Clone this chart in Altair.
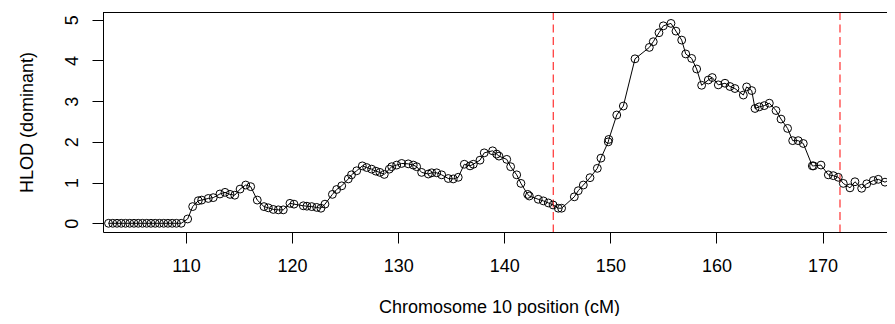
import altair as alt
import pandas as pd

# Chromosome position (cM) and HLOD values
pos = [102.7, 103.1, 103.5, 103.9, 104.3, 104.7, 105.1, 105.5, 105.9, 106.3,
       106.7, 107.1, 107.5, 107.9, 108.3, 108.7, 109.1, 109.55,
       110.16, 110.63, 111.16, 111.48, 112.1, 112.57, 113.2, 113.68, 114.15, 114.6,
       115.1, 115.63, 116.1, 116.72, 117.35, 117.76, 118.23, 118.7, 119.17, 119.8,
       120.18, 121.06, 121.4, 121.85, 122.32, 122.72, 123.1, 123.8, 124.2, 124.68,
       125.3, 125.6, 126.09, 126.62, 127.03, 127.5, 127.9, 128.28, 128.69, 129.16,
       129.39, 129.86, 130.33, 130.95, 131.42, 131.74, 132.21, 132.84, 133.16, 133.63,
       134.1, 134.72, 135.19, 135.66, 136.23, 136.77, 137.08, 137.71, 138.11, 138.9,
       139.28, 139.5, 140.23, 140.6, 141.17, 141.57, 142.2, 142.36, 143.2, 143.68,
       144.15, 144.6, 145.09, 145.4, 146.6, 146.97, 147.45, 148.08, 148.77, 149.11,
       149.8, 149.85, 150.6, 151.22, 152.32, 153.67, 154.04, 154.58, 154.99, 155.71,
       156.18, 156.72, 157.1, 157.66, 158.13, 158.6, 159.23, 159.6, 160.17, 160.8,
       161.27, 161.74, 162.53, 162.84, 163.32, 163.63, 164.03, 164.5, 164.98, 165.61,
       166.08, 166.7, 167.18, 167.7, 168.18, 169.03, 169.15, 169.85, 170.54, 171.01,
       171.48, 171.95, 172.58, 173.05, 173.68, 174.16, 174.78, 175.25, 175.88, 176.8,
       177.5]
hlod = [0, 0, 0, 0, 0, 0, 0, 0, 0, 0,
        0, 0, 0, 0, 0, 0, 0, 0,
        0.106, 0.41, 0.555, 0.57, 0.61, 0.63, 0.72, 0.76, 0.71, 0.69,
        0.84, 0.94, 0.9, 0.57, 0.41, 0.38, 0.34, 0.33, 0.33, 0.49,
        0.47, 0.43, 0.42, 0.41, 0.39, 0.37, 0.47, 0.71, 0.83, 0.92,
        1.09, 1.19, 1.29, 1.41, 1.37, 1.33, 1.28, 1.25, 1.2, 1.33,
        1.39, 1.43, 1.47, 1.46, 1.43, 1.39, 1.25, 1.21, 1.24, 1.24,
        1.19, 1.1, 1.09, 1.13, 1.45, 1.41, 1.45, 1.55, 1.73, 1.78,
        1.7, 1.65, 1.57, 1.39, 1.19, 0.98, 0.71, 0.67, 0.59, 0.55,
        0.5, 0.45, 0.37, 0.37, 0.65, 0.8, 0.94, 1.12, 1.35, 1.6,
        2.0, 2.06, 2.66, 2.88, 4.04, 4.32, 4.46, 4.68, 4.85, 4.91,
        4.72, 4.5, 4.16, 4.05, 3.79, 3.39, 3.52, 3.58, 3.4, 3.44,
        3.36, 3.31, 3.15, 3.35, 3.26, 2.82, 2.86, 2.89, 2.95, 2.77,
        2.56, 2.33, 2.03, 2.03, 1.96, 1.41, 1.41, 1.43, 1.19, 1.17,
        1.13, 0.98, 0.87, 1.02, 0.86, 0.97, 1.05, 1.08, 1.01, 1.14,
        1.2]

vlines = [144.62, 171.64]
x_ticks = [110, 120, 130, 140, 150, 160, 170]
y_ticks = [0, 1, 2, 3, 4, 5]

df = pd.DataFrame({"pos": pos, "hlod": hlod})
dv = pd.DataFrame({"v": vlines})

W, H = 784, 220
FONT = "Liberation Sans"

xs = alt.Scale(domain=[102.18, 176.07], nice=False, zero=False)
ys = alt.Scale(domain=[-0.214, 5.19], nice=False, zero=False)

xaxis = alt.Axis(values=x_ticks, tickSize=11, tickColor="black", domainColor="black",
                 labelFont=FONT, labelFontSize=18, labelColor="black", labelPadding=14,
                 grid=False, title="Chromosome 10 position (cM)", titleFont=FONT,
                 titleFontSize=18, titleFontWeight="normal", titleColor="black",
                 titleBaseline="alphabetic", titleY=80, titleX=396, labelFlush=False)
yaxis = alt.Axis(values=y_ticks, tickSize=11, tickColor="black", domainColor="black",
                 labelFont=FONT, labelFontSize=18, labelColor="black", labelPadding=15,
                 labelAngle=270, labelAlign="center", labelBaseline="alphabetic",
                 grid=False, title="HLOD (dominant)", titleFont=FONT, titleFontSize=18,
                 titleFontWeight="normal", titleColor="black", titleAngle=270,
                 titleBaseline="alphabetic", titleX=-71, titleY=110, labelFlush=False)

base = alt.Chart(df)

line = base.mark_line(color="black", strokeWidth=1, clip=True).encode(
    x=alt.X("pos:Q", scale=xs, axis=xaxis),
    y=alt.Y("hlod:Q", scale=ys, axis=yaxis),
)
pts = base.mark_point(shape="circle", filled=False, color="black", size=62,
                      strokeWidth=1, opacity=1, clip=True).encode(
    x=alt.X("pos:Q", scale=xs),
    y=alt.Y("hlod:Q", scale=ys),
)
red = alt.Chart(dv).mark_rule(color="#ff2020", strokeWidth=1.3, strokeDash=[8, 4.5],
                              opacity=0.85).encode(x=alt.X("v:Q", scale=xs))
top = alt.Chart(dv).mark_rule(color="black", strokeWidth=1).encode(
    x=alt.value(0), x2=alt.value(W), y=alt.value(0.5))

chart = alt.layer(red, line, pts, top).properties(
    width=W, height=H,
    autosize=alt.AutoSizeParams(type="none"),
    padding={"left": 95, "top": 4, "right": 0, "bottom": 84},
).configure_view(stroke=None)

chart.save("out.html", embed_options={"renderer": "svg", "actions": False})
